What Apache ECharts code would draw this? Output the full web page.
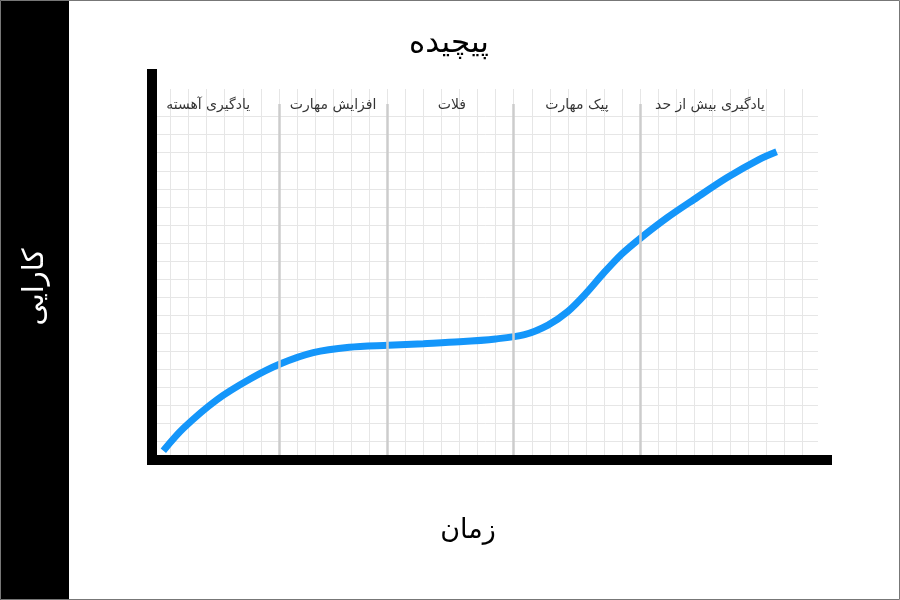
<!DOCTYPE html>
<html><head><meta charset="utf-8">
<script src="https://cdn.jsdelivr.net/npm/echarts@6/dist/echarts.min.js"></script>
<style>html,body{margin:0;padding:0;background:#fff}#c{width:900px;height:600px}</style>
</head><body><div id="c"></div>
<script>
// Curve (arbitrary grid units: one unit = one minor grid cell)
const curveX = [0.60,1.71,3.55,5.40,7.06,8.90,10.90,13.06,15.00,17.00,19.00,20.60,21.90,23.00,24.00,25.00,26.00,27.00,28.50,30.00,31.80,33.60,34.56];
const curveY = [0.49,1.73,3.30,4.46,5.29,5.92,6.22,6.33,6.42,6.52,6.68,6.92,7.45,8.20,9.20,10.35,11.40,12.25,13.40,14.42,15.61,16.63,17.05];
// Stages
const stageNames = ['یادگیری آهسته','افزایش مهارت','فلات','پیک مهارت','یادگیری بیش از حد'];
const stageLabelX = [3.08,10.0,16.58,23.5,30.87];
const stageLabelY = 19.6;
const boundaries = [7,13,20,27];
const boundaryTop = 19.7;
const titleText = 'پیچیده';
const xName = 'زمان';
const yName = 'کارایی';
const xMax = 36.85, yMax = 20.53;

const FONT = 'DejaVu Sans';
const chart = echarts.init(document.getElementById('c'), null, {renderer:'canvas'});
const gray = '#e6e6e6', none = 'rgba(0,0,0,0)';
const xColors = []; for (let i=0;i<=38;i++) xColors.push(i>=1 && i<=36 ? gray : none);
const yColors = []; for (let i=0;i<=22;i++) yColors.push(i>=1 && i<=19 ? gray : none);

const hidden = {axisLine:{show:false},axisTick:{show:false},axisLabel:{show:false},splitLine:{show:false}};
chart.setOption({
  animation:false,
  backgroundColor:'#fff',
  grid:[
    {left:152, right:73, top:74, bottom:140},
    {left:152.5, right:82, top:89, bottom:140.5}
  ],
  xAxis:[
    Object.assign({}, hidden, {gridIndex:0,type:'value',min:0,max:1,z:5,
      axisLine:{show:true,onZero:false,lineStyle:{color:'#000',width:10,cap:'square'}}}),
    {gridIndex:1,type:'value',min:0,max:xMax,interval:1,
      axisLine:{show:false},axisTick:{show:false},axisLabel:{show:false},
      splitLine:{show:true,showMaxLine:false,lineStyle:{color:xColors,width:1}}}
  ],
  yAxis:[
    Object.assign({}, hidden, {gridIndex:0,type:'value',min:0,max:1,z:5,
      axisLine:{show:true,onZero:false,lineStyle:{color:'#000',width:10,cap:'square'}}}),
    {gridIndex:1,type:'value',min:0,max:yMax,interval:1,
      axisLine:{show:false},axisTick:{show:false},axisLabel:{show:false},
      splitLine:{show:true,showMaxLine:false,lineStyle:{color:yColors,width:1}}}
  ],
  series:[
    {
      type:'line', xAxisIndex:1, yAxisIndex:1, z:3,
      data: curveX.map((x,i)=>[x,curveY[i]]),
      smooth:0.3, symbol:'none',
      lineStyle:{color:'#1496fa',width:7,cap:'butt'},
      markLine:{
        silent:true, symbol:'none', label:{show:false},
        lineStyle:{color:'#cccccc',width:2.5,type:'solid'},
        data: boundaries.map(b=>[{coord:[b,0]},{coord:[b,boundaryTop]}])
      }
    },
    {
      type:'scatter', xAxisIndex:1, yAxisIndex:1, symbolSize:0, z:4,
      data: stageNames.map((n,i)=>({name:n,value:[stageLabelX[i],stageLabelY]})),
      label:{show:true,position:'inside',formatter:p=>p.name,color:'#000',fontSize:14,fontFamily:FONT}
    }
  ],
  graphic:[
    {type:'rect',shape:{x:0,y:0,width:69,height:600},style:{fill:'#000'},z:0},
    {type:'rect',shape:{x:0.5,y:0.5,width:899,height:599},style:{fill:null,stroke:'#777',lineWidth:1},z:10},
    {type:'text',x:449,y:44,style:{text:titleText,font:'31px "DejaVu Sans"',fill:'#000',textAlign:'center',textVerticalAlign:'middle'}},
    {type:'text',x:468,y:531,style:{text:xName,font:'27px "DejaVu Sans"',fill:'#000',textAlign:'center',textVerticalAlign:'middle'}},
    {type:'text',x:35,y:287,rotation:Math.PI/2,style:{text:yName,font:'29px "DejaVu Sans"',fill:'#fff',textAlign:'center',textVerticalAlign:'middle'}}
  ]
});
</script></body></html>
